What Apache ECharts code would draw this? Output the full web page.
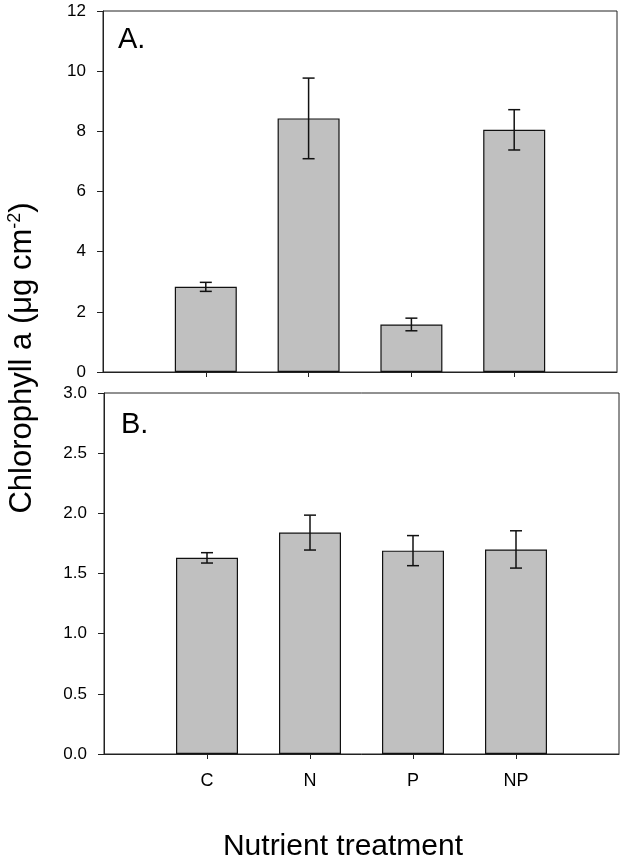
<!DOCTYPE html>
<html lang="en">
<head>
	<meta charset="UTF-8">
	<title>Chlorophyll a</title>
	<script src="https://cdn.jsdelivr.net/npm/echarts@6/dist/echarts.min.js"></script>
</head>
<style>
	html, body { margin: 0; padding: 0; background: #fff; }
	#main { width: 624px; height: 863px; }
</style>
<body>
	<div id="main"></div>
	<script>
		// 数据
		var categories = ['', 'C', 'N', 'P', 'NP', ''];
		var meanA = ['-', 2.83, 8.43, 1.58, 8.05, '-'];
		var errA  = [0, 0.15, 1.34, 0.21, 0.67, 0];
		var meanB = ['-', 1.63, 1.84, 1.69, 1.70, '-'];
		var errB  = [0, 0.043, 0.145, 0.125, 0.155, 0];
		var ticksA = [0, 12, 2];
		var ticksB = [0, 3, 0.5];

		var font = 'Liberation Sans, Arial, sans-serif';
		var axisColor = '#222';

		// 误差线
		var errorData = function(mean, err){
			var out = [];
			for(var i = 0; i < mean.length; i++){
				if(mean[i] !== '-'){
					out.push([i, mean[i] - err[i], mean[i] + err[i]]);
				}
			}
			return out;
		};
		var renderError = function(params, api){
			var lo = api.coord([api.value(0), api.value(1)]);
			var hi = api.coord([api.value(0), api.value(2)]);
			var cap = 6;
			var st = { stroke: '#111', lineWidth: 1.5 };
			return {
				type: 'group',
				children: [
					{ type: 'line', shape: { x1: lo[0], y1: lo[1], x2: hi[0], y2: hi[1] }, style: st },
					{ type: 'line', shape: { x1: lo[0] - cap, y1: lo[1], x2: lo[0] + cap, y2: lo[1] }, style: st },
					{ type: 'line', shape: { x1: hi[0] - cap, y1: hi[1], x2: hi[0] + cap, y2: hi[1] }, style: st }
				]
			};
		};

		var xAxisBase = function(idx, showLabel){
			return {
				type: 'category',
				gridIndex: idx,
				data: categories,
				boundaryGap: false,
				axisLine: { lineStyle: { color: axisColor, width: 1 } },
				axisTick: {
					show: true, length: 5,
					interval: function(i, v){ return v !== ''; },
					lineStyle: { color: axisColor }
				},
				axisLabel: {
					show: showLabel, color: '#000', fontSize: 18, fontFamily: font, margin: 18,
					interval: 0
				},
				splitLine: { show: false }
			};
		};
		var yAxisBase = function(idx, t, decimals){
			return {
				type: 'value',
				gridIndex: idx,
				min: t[0], max: t[1], interval: t[2],
				axisLine: { show: true, lineStyle: { color: axisColor, width: 1 } },
				axisTick: { show: true, length: 6, lineStyle: { color: axisColor } },
				axisLabel: {
					color: '#000', fontSize: 17, fontFamily: font, margin: 17,
					formatter: function(v){ return v.toFixed(decimals); }
				},
				splitLine: { show: false }
			};
		};

		var myChart = echarts.init(document.getElementById('main'));
		var option = {
			animation: false,
			backgroundColor: '#fff',
			grid: [
				{ left: 103, right: 7, top: 11, bottom: 491, show: true, borderColor: axisColor, borderWidth: 1 },
				{ left: 104, right: 5, top: 393, bottom: 109, show: true, borderColor: axisColor, borderWidth: 1 }
			],
			xAxis: [xAxisBase(0, false), xAxisBase(1, true)],
			yAxis: [yAxisBase(0, ticksA, 0), yAxisBase(1, ticksB, 1)],
			series: [
				{
					type: 'bar', xAxisIndex: 0, yAxisIndex: 0, data: meanA, barWidth: 62,
					itemStyle: { color: '#c0c0c0', borderColor: '#111', borderWidth: 1.2 }
				},
				{
					type: 'bar', xAxisIndex: 1, yAxisIndex: 1, data: meanB, barWidth: 62,
					itemStyle: { color: '#c0c0c0', borderColor: '#111', borderWidth: 1.2 }
				},
				{ type: 'custom', xAxisIndex: 0, yAxisIndex: 0, data: errorData(meanA, errA), renderItem: renderError, z: 5 },
				{ type: 'custom', xAxisIndex: 1, yAxisIndex: 1, data: errorData(meanB, errB), renderItem: renderError, z: 5 }
			],
			graphic: [
				{ type: 'text', x: 118, y: 40, style: { text: 'A.', fontSize: 29, fontFamily: font, fill: '#000', verticalAlign: 'middle' } },
				{ type: 'text', x: 121, y: 425, style: { text: 'B.', fontSize: 29, fontFamily: font, fill: '#000', verticalAlign: 'middle' } },
				{
					type: 'text', x: 22, y: 358, rotation: Math.PI / 2,
					style: {
						text: 'Chlorophyll a (μg cm{sup|-2})',
						fontSize: 31, fontFamily: font, fill: '#000',
						align: 'center', verticalAlign: 'middle',
						rich: { sup: { fontSize: 18, fontFamily: font, verticalAlign: 'top', padding: [0, 0, 14, 0] } }
					}
				},
				{
					type: 'text', x: 343, y: 847,
					style: { text: 'Nutrient treatment', fontSize: 30, fontFamily: font, fill: '#000', align: 'center', verticalAlign: 'middle' }
				}
			]
		};
		myChart.setOption(option);
	</script>
</body>
</html>
